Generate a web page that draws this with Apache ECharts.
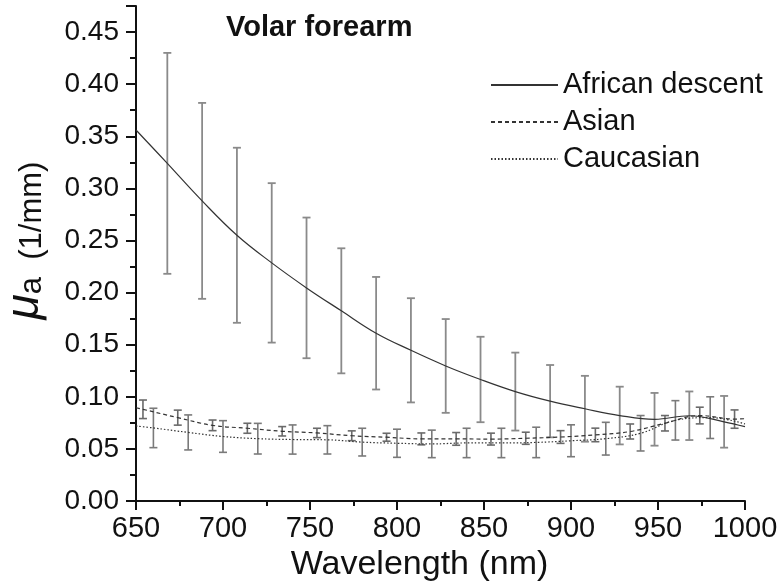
<!DOCTYPE html>
<html>
<head>
<meta charset="utf-8">
<script src="https://cdn.jsdelivr.net/npm/echarts@6/dist/echarts.min.js"></script>
<style>
  html, body { margin: 0; padding: 0; background: #fff; }
  #chart { width: 783px; height: 584px; }
</style>
</head>
<body>
<div id="chart"></div>
<script>
// wavelength (nm) / mu_a (1/mm) / standard deviation (null = no error bar)
const africanWl = [650, 668, 688, 708, 728, 748, 768, 788, 808, 828, 848, 868, 888, 908, 928, 948, 968, 988, 1000];
const africanMu = [0.356, 0.324, 0.288, 0.255, 0.2285, 0.2045, 0.1825, 0.161, 0.1446, 0.1296, 0.1166, 0.105, 0.0958, 0.0885, 0.082, 0.0784, 0.0818, 0.076, 0.0713];
const africanSd = [null, 0.106, 0.094, 0.084, 0.0765, 0.0675, 0.06, 0.054, 0.05, 0.045, 0.041, 0.0374, 0.0347, 0.0316, 0.0277, 0.0253, 0.0233, 0.0248, null];

const asianWl = [650, 654, 674, 694, 714, 734, 754, 774, 794, 814, 834, 854, 874, 894, 914, 934, 954, 974, 994, 1000];
const asianMu = [0.0895, 0.088, 0.08, 0.0726, 0.0698, 0.0669, 0.0653, 0.0626, 0.0612, 0.0596, 0.0596, 0.0594, 0.0602, 0.0614, 0.0634, 0.0667, 0.0746, 0.082, 0.0786, 0.079];
const asianSd = [null, 0.0089, 0.0072, 0.0051, 0.0048, 0.0045, 0.0045, 0.0047, 0.0038, 0.0057, 0.0061, 0.0057, 0.0058, 0.0061, 0.0065, 0.0072, 0.0074, 0.008, 0.0088, null];

const caucWl = [650, 660, 680, 700, 720, 740, 760, 780, 800, 820, 840, 860, 880, 900, 920, 940, 960, 980, 1000];
const caucMu = [0.072, 0.0701, 0.0658, 0.0619, 0.0598, 0.059, 0.0587, 0.0565, 0.0554, 0.0548, 0.0557, 0.0557, 0.0562, 0.0578, 0.0598, 0.065, 0.0774, 0.08, 0.074];
const caucSd = [null, 0.0189, 0.0168, 0.0152, 0.0147, 0.014, 0.0136, 0.0133, 0.0135, 0.0132, 0.0141, 0.0141, 0.0146, 0.0153, 0.0157, 0.017, 0.0189, 0.02, null];

const seriesNames = ['African descent', 'Asian', 'Caucasian'];

const FONT = 'Liberation Sans, Arial, sans-serif';

const chart = echarts.init(document.getElementById('chart'), null, { renderer: 'canvas' });

function curve(name, wl, mu, dash) {
  return {
    name: name,
    type: 'line',
    smooth: 0.4,
    symbol: 'none',
    z: 3,
    color: '#333',
    lineStyle: { color: '#333', width: 1.2, type: dash },
    data: wl.map((x, i) => [x, mu[i]]),
  };
}

function errorBars(wl, mu, sd, color, width) {
  const data = [];
  wl.forEach((x, i) => {
    if (sd[i] != null) data.push([x, mu[i], sd[i]]);
  });
  return {
    type: 'custom',
    z: 2,
    silent: true,
    encode: { x: 0, y: 1 },
    renderItem: function (params, api) {
      const x = api.value(0), m = api.value(1), s = api.value(2);
      const top = api.coord([x, m + s]);
      const bot = api.coord([x, m - s]);
      const w = 4; // half cap width
      const style = { stroke: color, lineWidth: width };
      return {
        type: 'group',
        children: [
          { type: 'line', shape: { x1: top[0], y1: top[1], x2: bot[0], y2: bot[1] }, style: style },
          { type: 'line', shape: { x1: top[0] - w, y1: top[1], x2: top[0] + w, y2: top[1] }, style: style },
          { type: 'line', shape: { x1: bot[0] - w, y1: bot[1], x2: bot[0] + w, y2: bot[1] }, style: style },
        ],
      };
    },
    data: data,
  };
}

const option = {
  animation: false,
  backgroundColor: '#fff',
  title: {
    text: 'Volar forearm',
    left: 221,
    top: 8,
    textStyle: { fontFamily: FONT, fontSize: 29, fontWeight: 'bold', color: '#111' },
  },
  legend: {
    data: seriesNames,
    orient: 'vertical',
    left: 485,
    top: 65,
    itemWidth: 67,
    itemHeight: 14,
    itemGap: 7,
    itemStyle: { opacity: 0 },
    textStyle: { fontFamily: FONT, fontSize: 29, lineHeight: 30, color: '#111' },
  },
  grid: { left: 136, right: 38, top: 6, bottom: 83, containLabel: false, outerBoundsMode: 'none' },
  xAxis: {
    type: 'value',
    min: 650,
    max: 1000,
    interval: 50,
    name: 'Wavelength (nm)',
    nameLocation: 'middle',
    nameGap: 42,
    nameTextStyle: { fontFamily: FONT, fontSize: 34, color: '#111', padding: [0, 42, 0, 0] },
    axisLine: { lineStyle: { color: '#111', width: 2 } },
    axisTick: { length: 9, lineStyle: { color: '#111', width: 2 } },
    minorTick: { show: true, splitNumber: 2, length: 5, lineStyle: { color: '#111', width: 2 } },
    splitLine: { show: false },
    axisLabel: {
      fontFamily: FONT,
      fontSize: 29,
      color: '#111',
      margin: 13,
      formatter: function (v) { return String(v); },
    },
  },
  yAxis: {
    type: 'value',
    min: 0,
    max: 0.475,
    interval: 0.05,
    name: '{mu|μ}{t|a  (1/mm)}',
    nameLocation: 'middle',
    nameRotate: 90,
    nameGap: 88,
    nameTextStyle: {
      padding: [0, 0, 0, 26],
      rich: {
        mu: { fontFamily: FONT, fontSize: 46, fontStyle: 'italic', color: '#111', verticalAlign: 'bottom', lineHeight: 50 },
        t: { fontFamily: FONT, fontSize: 31, color: '#111', verticalAlign: 'bottom', lineHeight: 44 },
      },
    },
    axisLine: { show: true, lineStyle: { color: '#111', width: 2 } },
    axisTick: { show: true, length: 10, lineStyle: { color: '#111', width: 2 } },
    minorTick: { show: true, splitNumber: 2, length: 6, lineStyle: { color: '#111', width: 2 } },
    splitLine: { show: false },
    axisLabel: {
      fontFamily: FONT,
      fontSize: 28,
      color: '#111',
      margin: 17,
      formatter: function (v) {
        return Math.abs(v * 20 - Math.round(v * 20)) < 1e-6 ? v.toFixed(2) : '';
      },
    },
  },
  series: [
    errorBars(africanWl, africanMu, africanSd, '#8a8a8a', 1.8),
    errorBars(asianWl, asianMu, asianSd, '#6a6a6a', 1.6),
    errorBars(caucWl, caucMu, caucSd, '#7a7a7a', 1.6),
    curve('African descent', africanWl, africanMu, 'solid'),
    curve('Asian', asianWl, asianMu, [4, 3]),
    curve('Caucasian', caucWl, caucMu, [1.5, 2]),
  ],
};

chart.setOption(option);
</script>
</body>
</html>
